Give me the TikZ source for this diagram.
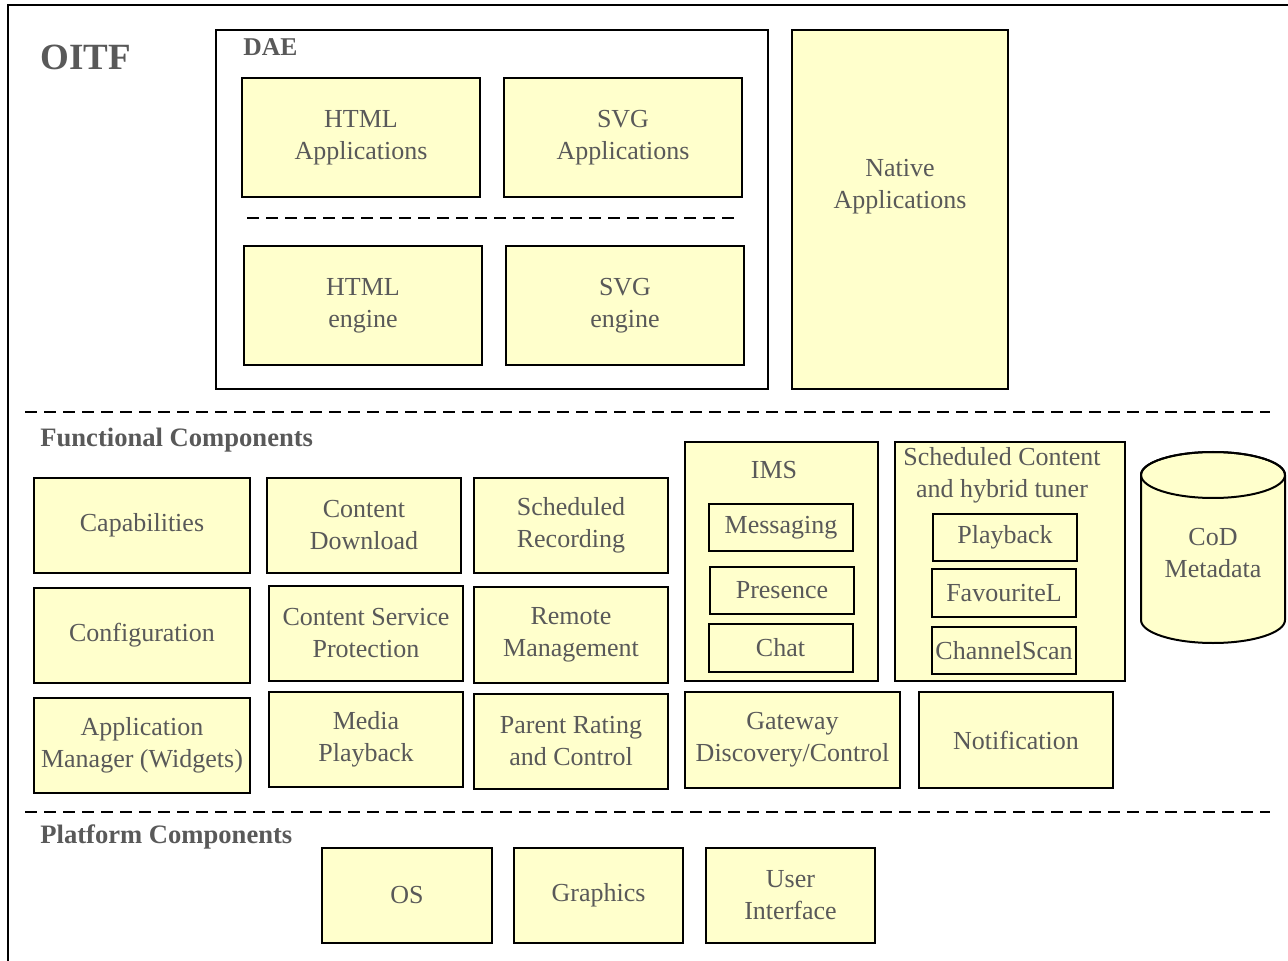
\documentclass[tikz,border=0pt]{standalone}
\usepackage{fontspec}
\setmainfont{Liberation Serif}
\usetikzlibrary{calc}
\definecolor{caixa}{HTML}{FFFFCC}
\definecolor{cinza}{HTML}{595959}
\tikzset{comp/.style={draw=black,line width=1pt,fill=caixa,text=cinza,align=center,inner sep=0pt,font=\fontsize{13pt}{16pt}\selectfont}}
\tikzset{sub/.style={comp,minimum width=72pt,minimum height=23.5pt}}
\tikzset{secao/.style={text=cinza,font=\bfseries\fontsize{13.3pt}{15pt}\selectfont,anchor=west,inner sep=0pt}}
\tikzset{divisa/.style={draw=black,line width=1pt,dash pattern=on 6pt off 3.5pt}}

\begin{document}
\begin{tikzpicture}[x=0.5pt,y=-0.5pt,
                    moldura/.style={draw=black,line width=1pt},
                    rotulo/.style={text=cinza,align=center,inner sep=0pt,font=\fontsize{13pt}{16pt}\selectfont}]

		\useasboundingbox (0,0) rectangle (1288,961);

		% A moldura do OITF
		\draw [moldura] (1288,5) -- (8,5) -- (8,961);
		\node [secao,font=\bfseries\fontsize{18.5pt}{20pt}\selectfont] (oitf) at (40,57) {OITF};

		% O DAE e suas aplicações
		\node [comp,fill=white,minimum width=276pt,minimum height=179.5pt] (dae) at (492,209.5) {};
		\node [secao,font=\bfseries\fontsize{12.8pt}{15pt}\selectfont] (dae label) at (243,47) {DAE};
		\node [comp,minimum width=119pt,minimum height=59.5pt] (html app) at (361,137.5) {HTML\\Applications};
		\node [comp,minimum width=119pt,minimum height=59.5pt] (svg app) at (623,137.5) {SVG\\Applications};
		\coordinate (dae sep left)  at (247,218);
		\coordinate (dae sep right) at (740,218);
		\draw [divisa] (dae sep left) -- (dae sep right);
		\node [comp,minimum width=119pt,minimum height=59.5pt] (html eng) at (363,305.5) {HTML\\engine};
		\node [comp,minimum width=119pt,minimum height=59.5pt] (svg eng) at (625,305.5) {SVG\\engine};

		% Aplicações nativas
		\node [comp,minimum width=108pt,minimum height=179.5pt] (native) at (900,209.5) {};
		\node [rotulo] (native label) at (900,187) {Native\\Applications};

		% Componentes funcionais
		\coordinate (func left)  at (25,412);
		\coordinate (func right) at (1270,412);
		\draw [divisa] (func left) -- (func right);
		\node [secao] (func label) at (40,440) {Functional Components};

		\node [comp,minimum width=108pt,minimum height=47.5pt] (capab) at (142,525.5) {Capabilities};
		\node [comp,minimum width=97pt,minimum height=47.5pt] (content dl) at (364,525.5) {Content\\Download};
		\node [comp,minimum width=97pt,minimum height=47.5pt] (sched rec) at (571,525.5) {Scheduled\\Recording};
		\node [comp,minimum width=108pt,minimum height=47.5pt] (config) at (142,635.5) {Configuration};
		\node [comp,minimum width=97pt,minimum height=47.5pt] (csp) at (366,633.5) {Content Service\\Protection};
		\node [comp,minimum width=97pt,minimum height=48pt] (remote) at (571,635) {Remote\\Management};
		\node [comp,minimum width=108pt,minimum height=47.5pt] (app man) at (142,745.5) {Application\\Manager (Widgets)};
		\node [comp,minimum width=97pt,minimum height=47.5pt] (media) at (366,739.5) {Media\\Playback};
		\node [comp,minimum width=97pt,minimum height=47.5pt] (parent) at (571,741.5) {Parent Rating\\and Control};
		\node [comp,minimum width=107.5pt,minimum height=48pt] (gateway) at (792.5,740) {Gateway\\Discovery/Control};
		\node [comp,minimum width=97pt,minimum height=48pt] (notif) at (1016,740) {Notification};

		% IMS
		\node [comp,minimum width=96.5pt,minimum height=119.5pt] (ims) at (781.5,561.5) {};
		\node [rotulo] (ims label) at (774,470) {IMS};
		\node [sub] (messaging) at (781,527.5) {Messaging};
		\node [sub] (presence) at (782,590.5) {Presence};
		\node [sub,minimum height=24pt] (chat) at (780.5,648) {Chat};

		% Conteúdo programado e sintonizador híbrido
		\node [comp,minimum width=115pt,minimum height=119.5pt] (sched) at (1010,561.5) {};
		\node [rotulo] (sched label) at (1002,475) {Scheduled Content\\and hybrid tuner};
		\node [sub] (playback) at (1005,537.5) {Playback};
		\node [sub,minimum height=24pt] (favourite) at (1004,593) {FavouriteL};
		\node [sub] (channel) at (1004,650.5) {ChannelScan};

		% O cilindro dos metadados
		\draw [moldura,fill=caixa] (1141,475) -- (1141,620)
			arc [start angle=180,end angle=0,x radius=72,y radius=23] -- (1285,475)
			arc [start angle=0,end angle=-180,x radius=72,y radius=23] -- cycle;
		\draw [moldura] (1213,475) ellipse [x radius=72,y radius=23];
		\node [rotulo] (cod) at (1213,553) {CoD\\Metadata};

		% Componentes de plataforma
		\coordinate (plat left)  at (25,812);
		\coordinate (plat right) at (1270,812);
		\draw [divisa] (plat left) -- (plat right);
		\node [secao] (plat label) at (40,837) {Platform Components};

		\node [comp,minimum width=85pt,minimum height=47.5pt] (os) at (407,895.5) {OS};
		\node [comp,minimum width=84.5pt,minimum height=47.5pt] (graphics) at (598.5,895.5) {Graphics};
		\node [comp,minimum width=84.5pt,minimum height=47.5pt] (ui) at (790.5,895.5) {User\\Interface};

	\end{tikzpicture}
\end{document}
